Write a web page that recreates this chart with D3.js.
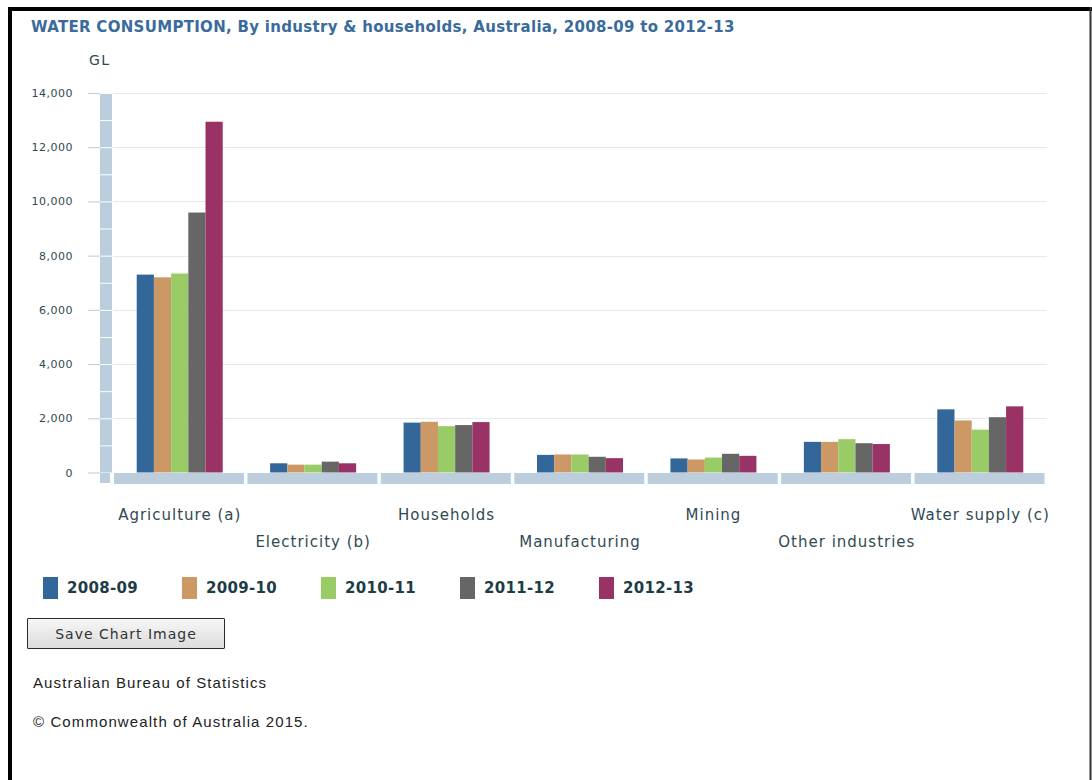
<!DOCTYPE html>
<html>
<head>
<meta charset="utf-8">
<script src="https://cdn.jsdelivr.net/npm/d3@7"></script>
<style>
  body { margin: 0; background: #fff; }
  #wrap { position: relative; width: 1092px; height: 780px; overflow: hidden; }
  svg { position: absolute; left: 0; top: 0; }
  .save-btn {
    position: absolute; left: 27px; top: 618px; width: 198px; height: 31px;
    border: 1px solid #2b2b2b; border-radius: 1px;
    background: linear-gradient(#f7f7f7, #dcdcdc);
    font-family: "DejaVu Sans", sans-serif; font-size: 14px; letter-spacing: 1px;
    color: #333; padding: 0; box-sizing: border-box;
  }
</style>
</head>
<body>
<div id="wrap"></div>
<script>
// data (GL)
const categories = ["Agriculture (a)", "Electricity (b)", "Households", "Manufacturing", "Mining", "Other industries", "Water supply (c)"];
const years = ["2008-09", "2009-10", "2010-11", "2011-12", "2012-13"];
const v2008 = [7300, 340, 1840, 650, 520, 1130, 2330];
const v2009 = [7200, 290, 1870, 665, 480, 1130, 1920];
const v2010 = [7340, 290, 1710, 665, 550, 1230, 1580];
const v2011 = [9590, 400, 1750, 580, 690, 1080, 2040];
const v2012 = [12940, 340, 1860, 530, 615, 1050, 2440];
const yTicks = [0, 2000, 4000, 6000, 8000, 10000, 12000, 14000];
const colors = ["#336699", "#cc9966", "#99cc66", "#666666", "#993366"];

const series = [v2008, v2009, v2010, v2011, v2012];

const width = 1092;
const height = 780;
const axisBlue = "#bccddd";
const textCol = "#2f4a52";

const wrap = d3.select("#wrap");
const svg = wrap.append("svg").attr("width", width).attr("height", height);

// frame
svg.append("rect").attr("x", 8).attr("y", 7).attr("width", width - 8).attr("height", 4).attr("fill", "#000");
svg.append("rect").attr("x", 8).attr("y", 7).attr("width", 4).attr("height", height).attr("fill", "#000");
svg.append("rect").attr("x", 1089.5).attr("y", 7).attr("width", 2).attr("height", height).attr("fill", "#333");

// title
svg.append("text")
  .attr("x", 31)
  .attr("y", 32)
  .attr("font-family", "DejaVu Sans, sans-serif")
  .attr("font-size", "15px")
  .attr("font-weight", "bold")
  .attr("letter-spacing", "0.3px")
  .attr("fill", "#3a6b9c")
  .text("WATER CONSUMPTION, By industry & households, Australia, 2008-09 to 2012-13");

svg.append("text")
  .attr("x", 89)
  .attr("y", 65)
  .attr("font-family", "DejaVu Sans, sans-serif")
  .attr("font-size", "14px")
  .attr("letter-spacing", "1.5px")
  .attr("fill", textCol)
  .text("GL");

// scales
const x0 = d3.scaleBand().domain(categories).range([113, 1047]);
const groupW = 86;
const x1 = d3.scaleBand().domain(years)
  .range([(x0.bandwidth() - groupW) / 2, (x0.bandwidth() + groupW) / 2]);
const y = d3.scaleLinear().domain([0, 14000]).range([472.5, 93]);

// gridlines
svg.append("g")
  .selectAll("line")
  .data(yTicks.filter((d) => d > 0))
  .join("line")
  .attr("x1", 113)
  .attr("x2", 1047)
  .attr("y1", (d) => Math.round(y(d)) + 0.5)
  .attr("y2", (d) => Math.round(y(d)) + 0.5)
  .attr("stroke", "#e8e8e8");

// y axis band, segmented every 1000
const segs = d3.range(0, 14000, 1000);
svg.append("g")
  .selectAll("rect")
  .data(segs)
  .join("rect")
  .attr("x", 100)
  .attr("width", 12)
  .attr("y", (d) => y(d + 1000) + 1)
  .attr("height", (d) => y(d) - y(d + 1000) - 1)
  .attr("fill", axisBlue);
svg.append("rect").attr("x", 100).attr("y", 473).attr("width", 10).attr("height", 10).attr("fill", axisBlue);

// y ticks + labels
const yAxis = svg.append("g").attr("transform", "translate(100,0)")
  .call(d3.axisLeft(y).tickValues(yTicks).tickSize(12).tickPadding(15).tickFormat(d3.format(",")));
yAxis.select(".domain").remove();
yAxis.selectAll(".tick line").attr("stroke", axisBlue);
yAxis.selectAll(".tick text")
  .attr("font-family", "DejaVu Sans, sans-serif")
  .attr("font-size", "11px")
  .attr("letter-spacing", "0.5px")
  .attr("fill", textCol);

// x axis band segments
svg.append("g")
  .selectAll("rect")
  .data(categories)
  .join("rect")
  .attr("x", (d) => x0(d) + 1)
  .attr("y", 473)
  .attr("width", x0.bandwidth() - 3.5)
  .attr("height", 11)
  .attr("fill", axisBlue);

// bars
const groups = svg.append("g")
  .selectAll("g")
  .data(categories)
  .join("g")
  .attr("transform", (d) => `translate(${x0(d)},0)`);

groups.selectAll("rect")
  .data((c, ci) => years.map((yr, si) => ({ yr: yr, si: si, v: series[si][ci] })))
  .join("rect")
  .attr("x", (d) => x1(d.yr))
  .attr("width", x1.bandwidth())
  .attr("y", (d) => y(d.v))
  .attr("height", (d) => y(0) - y(d.v))
  .attr("fill", (d) => colors[d.si]);

// category labels, staggered on two rows
svg.append("g")
  .selectAll("text")
  .data(categories)
  .join("text")
  .attr("x", (d) => x0(d) + x0.bandwidth() / 2)
  .attr("y", (d, i) => (i % 2 === 0 ? 520 : 547))
  .attr("text-anchor", "middle")
  .attr("font-family", "DejaVu Sans, sans-serif")
  .attr("font-size", "15px")
  .attr("letter-spacing", "1px")
  .attr("fill", textCol)
  .text((d) => d);

// legend
const legend = svg.append("g")
  .selectAll("g")
  .data(years)
  .join("g")
  .attr("transform", (d, i) => `translate(${43 + i * 139},577)`);

legend.append("rect")
  .attr("width", 15)
  .attr("height", 22)
  .attr("fill", (d, i) => colors[i]);

legend.append("text")
  .attr("x", 24)
  .attr("y", 16)
  .attr("font-family", "DejaVu Sans, sans-serif")
  .attr("font-size", "15px")
  .attr("font-weight", "bold")
  .attr("letter-spacing", "0.3px")
  .attr("fill", "#1e3c46")
  .text((d) => d);

// button
wrap.append("button").attr("class", "save-btn").text("Save Chart Image");

// footer
svg.append("text")
  .attr("x", 33)
  .attr("y", 688)
  .attr("font-family", "Liberation Sans, sans-serif")
  .attr("font-size", "15px")
  .attr("letter-spacing", "1.1px")
  .attr("fill", "#222")
  .text("Australian Bureau of Statistics");

svg.append("text")
  .attr("x", 33)
  .attr("y", 727)
  .attr("font-family", "Liberation Sans, sans-serif")
  .attr("font-size", "15px")
  .attr("letter-spacing", "1.1px")
  .attr("fill", "#222")
  .text("© Commonwealth of Australia 2015.");
</script>
</body>
</html>
